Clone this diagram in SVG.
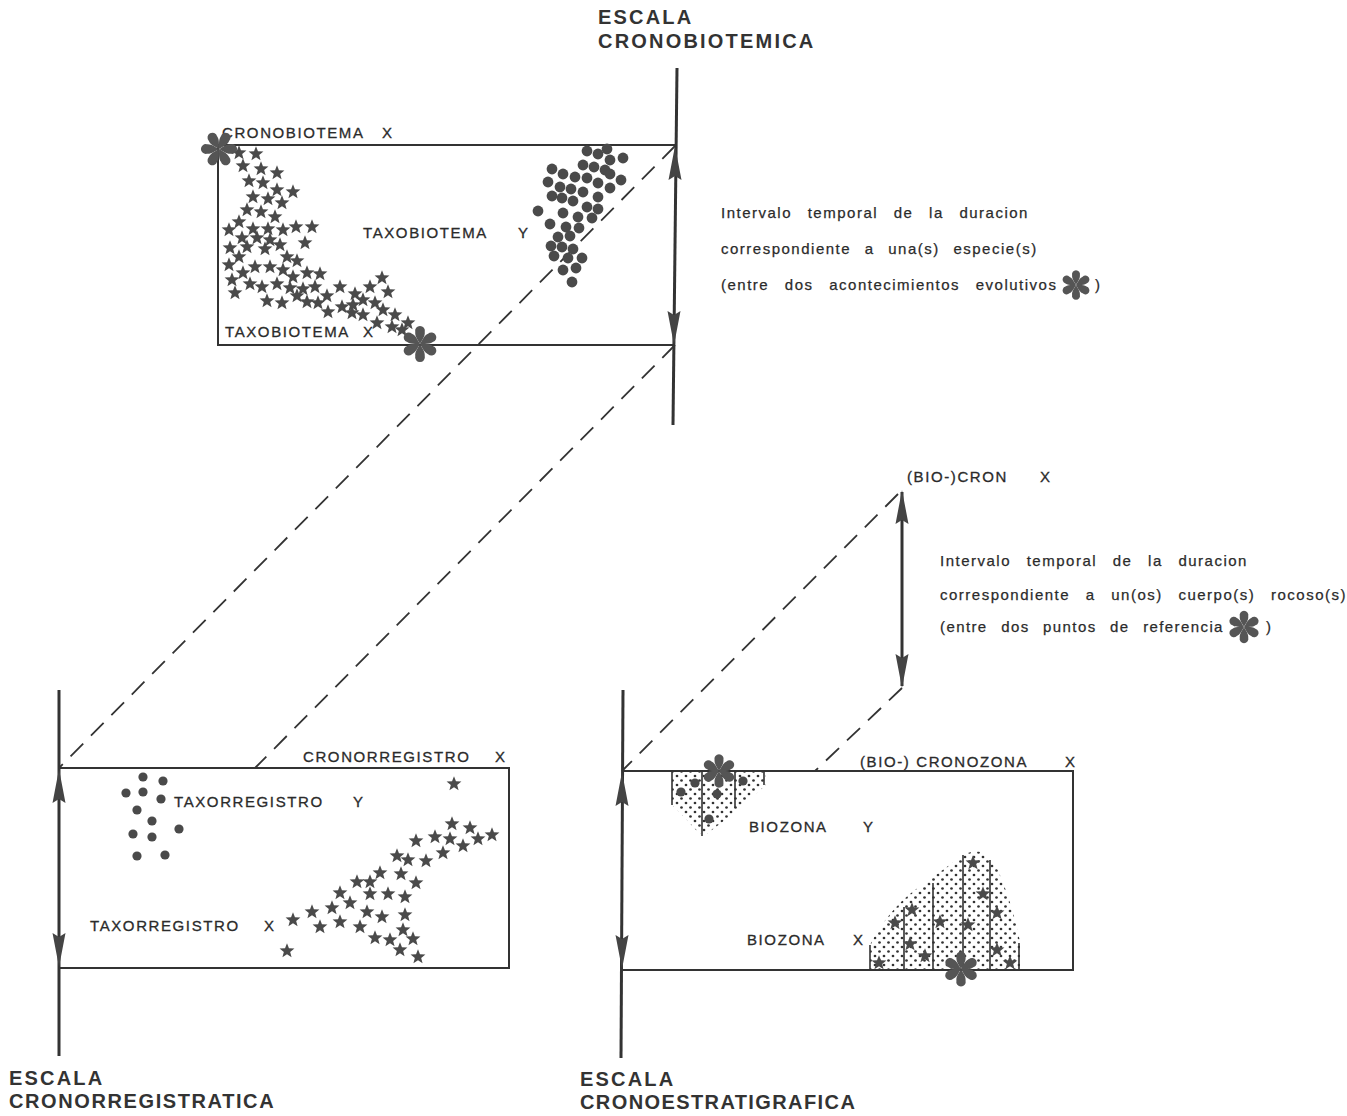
<svg xmlns="http://www.w3.org/2000/svg" xmlns:xlink="http://www.w3.org/1999/xlink" width="1347" height="1116" viewBox="0 0 1347 1116">
<style>
.bg{fill:#ffffff}
.box{fill:none;stroke:#333;stroke-width:2}
.axis{fill:none;stroke:#333;stroke-width:3}
.dash{fill:none;stroke:#333;stroke-width:1.8;stroke-dasharray:18 11}
.vl{stroke:#333;stroke-width:1.6}
.title{font-family:"Liberation Sans",Arial,sans-serif;font-weight:bold;font-size:20px;fill:#333}
.lab{font-family:"Liberation Sans",Arial,sans-serif;font-size:15px;letter-spacing:1.6px;fill:#2b2b2b;stroke:#2b2b2b;stroke-width:0.3}
.txt{font-family:"Liberation Sans",Arial,sans-serif;font-size:15px;letter-spacing:1.5px;word-spacing:10px;fill:#2b2b2b;stroke:#2b2b2b;stroke-width:0.25}
</style>
<defs>
<path id="star" d="M0,-7.8 L1.96,-2.7 7.42,-2.41 3.17,1.03 4.58,6.31 0,3.33 -4.58,6.31 -3.17,1.03 -7.42,-2.41 -1.96,-2.7 Z" fill="#4a4a4a"/>
<path id="petal" d="M0,0 C-1.2,-2.5 -3.8,-5.5 -3.4,-8.6 A3.5,3.5 0 1 1 3.4,-8.6 C3.8,-5.5 1.2,-2.5 0,0Z"/>
<g id="ast" fill="#555">
<use href="#petal"/>
<use href="#petal" transform="rotate(60)"/>
<use href="#petal" transform="rotate(120)"/>
<use href="#petal" transform="rotate(180)"/>
<use href="#petal" transform="rotate(240)"/>
<use href="#petal" transform="rotate(300)"/>
</g>
<polygon id="ahUp" points="0,0 6.5,34 0,30 -6.5,34" fill="#444"/>
<polygon id="ahDn" points="0,0 6.5,-34 0,-30 -6.5,-34" fill="#444"/>
<circle id="dot" r="5.4" fill="#4a4a4a"/>
<circle id="dotS" r="4.6" fill="#4a4a4a"/>
<pattern id="stip" width="9" height="9" patternUnits="userSpaceOnUse">
<circle cx="2" cy="2" r="1.35" fill="#333"/>
<circle cx="6.5" cy="6.5" r="1.35" fill="#333"/>
</pattern>
</defs>
<rect class="bg" x="0" y="0" width="1347" height="1116"/>

<!-- titles -->
<g id="title-cronobiotemica">
<text class="title" x="598" y="24" letter-spacing="2.2">ESCALA</text>
<text class="title" x="598" y="48" letter-spacing="2.2">CRONOBIOTEMICA</text>
</g>
<g id="title-cronorregistratica">
<text class="title" x="9" y="1085" letter-spacing="2.2">ESCALA</text>
<text class="title" x="9" y="1108" letter-spacing="1.6">CRONORREGISTRATICA</text>
</g>
<g id="title-cronoestratigrafica">
<text class="title" x="580" y="1086" letter-spacing="2.2">ESCALA</text>
<text class="title" x="580" y="1109" letter-spacing="1.4">CRONOESTRATIGRAFICA</text>
</g>

<!-- connectors (dashed projection lines) -->
<g id="connectors">
<line class="dash" x1="675" y1="146" x2="59" y2="768"/>
<line class="dash" x1="675" y1="345" x2="255" y2="768"/>
<line class="dash" x1="898" y1="494" x2="622" y2="771"/>
<line class="dash" x1="902" y1="688" x2="815" y2="771"/>
</g>

<!-- axes -->
<g id="axis-cronobiotemica">
<line class="axis" x1="677" y1="68" x2="673" y2="425"/>
<use href="#ahUp" x="675" y="146"/>
<use href="#ahDn" x="674" y="345"/>
</g>
<g id="axis-biocron">
<line class="axis" x1="902" y1="492" x2="902" y2="686"/>
<use href="#ahUp" x="902" y="490"/>
<use href="#ahDn" x="902" y="688"/>
</g>
<g id="axis-cronorregistratica">
<line class="axis" x1="59" y1="690" x2="59" y2="1056"/>
<use href="#ahUp" x="59" y="769"/>
<use href="#ahDn" x="59" y="967"/>
</g>
<g id="axis-cronoestratigrafica">
<line class="axis" x1="623" y1="690" x2="621" y2="1058"/>
<use href="#ahUp" x="622" y="772"/>
<use href="#ahDn" x="622" y="969"/>
</g>

<!-- top panel: cronobiotema -->
<g id="cronobiotema">
<polyline class="box" points="675,145 218,145 218,345 675,345"/>
<text class="lab" x="222" y="138">CRONOBIOTEMA</text>
<text class="lab" x="382" y="138">X</text>
<text class="lab" x="363" y="238">TAXOBIOTEMA</text>
<text class="lab" x="518" y="238">Y</text>
<text class="lab" x="225" y="337">TAXOBIOTEMA</text>
<text class="lab" x="363" y="337">X</text>
<g id="taxobiotema-x-stars">
<use href="#star" x="239" y="153"/><use href="#star" x="256" y="154"/><use href="#star" x="243" y="166"/><use href="#star" x="261" y="169"/><use href="#star" x="277" y="173"/>
<use href="#star" x="249" y="181"/><use href="#star" x="263" y="183"/><use href="#star" x="277" y="190"/><use href="#star" x="293" y="192"/><use href="#star" x="253" y="197"/>
<use href="#star" x="268" y="199"/><use href="#star" x="282" y="203"/><use href="#star" x="247" y="210"/><use href="#star" x="261" y="212"/><use href="#star" x="275" y="217"/>
<use href="#star" x="239" y="222"/><use href="#star" x="296" y="227"/><use href="#star" x="312" y="227"/><use href="#star" x="253" y="229"/><use href="#star" x="268" y="229"/>
<use href="#star" x="283" y="230"/><use href="#star" x="229" y="230"/><use href="#star" x="305" y="243"/><use href="#star" x="242" y="238"/><use href="#star" x="257" y="238"/>
<use href="#star" x="270" y="240"/><use href="#star" x="230" y="248"/><use href="#star" x="247" y="247"/><use href="#star" x="265" y="249"/><use href="#star" x="280" y="245"/>
<use href="#star" x="287" y="257"/><use href="#star" x="239" y="257"/><use href="#star" x="297" y="261"/><use href="#star" x="229" y="265"/><use href="#star" x="255" y="267"/>
<use href="#star" x="270" y="267"/><use href="#star" x="283" y="270"/><use href="#star" x="243" y="273"/><use href="#star" x="307" y="273"/><use href="#star" x="320" y="274"/>
<use href="#star" x="232" y="280"/><use href="#star" x="250" y="284"/><use href="#star" x="262" y="287"/><use href="#star" x="277" y="284"/><use href="#star" x="293" y="277"/>
<use href="#star" x="290" y="288"/><use href="#star" x="303" y="289"/><use href="#star" x="235" y="293"/><use href="#star" x="315" y="287"/><use href="#star" x="267" y="301"/>
<use href="#star" x="282" y="303"/><use href="#star" x="297" y="296"/><use href="#star" x="307" y="302"/><use href="#star" x="327" y="296"/><use href="#star" x="340" y="287"/>
<use href="#star" x="355" y="294"/><use href="#star" x="370" y="287"/><use href="#star" x="382" y="278"/><use href="#star" x="388" y="292"/><use href="#star" x="318" y="303"/>
<use href="#star" x="328" y="312"/><use href="#star" x="342" y="307"/><use href="#star" x="353" y="305"/><use href="#star" x="363" y="300"/><use href="#star" x="375" y="303"/>
<use href="#star" x="383" y="310"/><use href="#star" x="395" y="315"/><use href="#star" x="363" y="315"/><use href="#star" x="377" y="323"/><use href="#star" x="392" y="327"/>
<use href="#star" x="408" y="323"/><use href="#star" x="402" y="330"/><use href="#star" x="352" y="313"/>
</g>
<g id="taxobiotema-y-dots">
<use href="#dot" x="587" y="151"/><use href="#dot" x="598" y="154"/><use href="#dot" x="607" y="149"/><use href="#dot" x="610" y="160"/><use href="#dot" x="623" y="158"/>
<use href="#dot" x="583" y="165"/><use href="#dot" x="594" y="167"/><use href="#dot" x="605" y="170"/><use href="#dot" x="552" y="169"/><use href="#dot" x="563" y="174"/>
<use href="#dot" x="575" y="177"/><use href="#dot" x="587" y="178"/><use href="#dot" x="598" y="183"/><use href="#dot" x="610" y="174"/><use href="#dot" x="621" y="180"/>
<use href="#dot" x="548" y="182"/><use href="#dot" x="560" y="187"/><use href="#dot" x="571" y="189"/><use href="#dot" x="583" y="192"/><use href="#dot" x="598" y="197"/>
<use href="#dot" x="610" y="188"/><use href="#dot" x="552" y="196"/><use href="#dot" x="562" y="198"/><use href="#dot" x="573" y="201"/><use href="#dot" x="587" y="207"/>
<use href="#dot" x="598" y="209"/><use href="#dot" x="538" y="211"/><use href="#dot" x="563" y="213"/><use href="#dot" x="578" y="217"/><use href="#dot" x="592" y="218"/>
<use href="#dot" x="550" y="224"/><use href="#dot" x="566" y="227"/><use href="#dot" x="579" y="228"/><use href="#dot" x="558" y="237"/><use href="#dot" x="570" y="236"/>
<use href="#dot" x="551" y="246"/><use href="#dot" x="562" y="247"/><use href="#dot" x="573" y="249"/><use href="#dot" x="554" y="256"/><use href="#dot" x="568" y="258"/>
<use href="#dot" x="582" y="258"/><use href="#dot" x="563" y="270"/><use href="#dot" x="576" y="268"/><use href="#dot" x="572" y="282"/>
</g>
<use href="#ast" transform="translate(219,149) rotate(90) scale(1.4)"/>
<use href="#ast" transform="translate(420,344) scale(1.4)"/>
</g>

<!-- top note -->
<g id="note-cronobiotema">
<text class="txt" x="721" y="218">Intervalo temporal de la duracion</text>
<text class="txt" x="721" y="254" style="word-spacing:8px">correspondiente a una(s) especie(s)</text>
<text class="txt" x="721" y="290">(entre dos acontecimientos evolutivos</text>
<use href="#ast" transform="translate(1076,285) scale(1.15)"/>
<text class="txt" x="1095" y="290">)</text>
</g>

<!-- biocron note -->
<g id="note-biocron">
<text class="lab" x="907" y="482">(BIO-)CRON</text>
<text class="lab" x="1040" y="482">X</text>
<text class="txt" x="940" y="566">Intervalo temporal de la duracion</text>
<text class="txt" x="940" y="600">correspondiente a un(os) cuerpo(s) rocoso(s)</text>
<text class="txt" x="940" y="632" style="word-spacing:8px;letter-spacing:1.4px">(entre dos puntos de referencia</text>
<use href="#ast" transform="translate(1244,627) scale(1.25)"/>
<text class="txt" x="1266" y="632">)</text>
</g>

<!-- bottom-left panel: cronorregistro -->
<g id="cronorregistro">
<polyline class="box" points="59,768 509,768 509,968 59,968"/>
<text class="lab" x="303" y="762">CRONORREGISTRO</text>
<text class="lab" x="495" y="762">X</text>
<text class="lab" x="174" y="807">TAXORREGISTRO</text>
<text class="lab" x="353" y="807">Y</text>
<text class="lab" x="90" y="931">TAXORREGISTRO</text>
<text class="lab" x="264" y="931">X</text>
<g id="taxorregistro-y-dots">
<use href="#dotS" x="143" y="777"/><use href="#dotS" x="163" y="781"/><use href="#dotS" x="126" y="793"/><use href="#dotS" x="143" y="792"/><use href="#dotS" x="161" y="799"/>
<use href="#dotS" x="137" y="810"/><use href="#dotS" x="152" y="821"/><use href="#dotS" x="179" y="829"/><use href="#dotS" x="133" y="834"/><use href="#dotS" x="152" y="837"/>
<use href="#dotS" x="137" y="856"/><use href="#dotS" x="165" y="855"/>
</g>
<g id="taxorregistro-x-stars">
<use href="#star" x="454" y="784"/><use href="#star" x="452" y="824"/><use href="#star" x="470" y="828"/><use href="#star" x="492" y="835"/><use href="#star" x="478" y="839"/>
<use href="#star" x="463" y="846"/><use href="#star" x="450" y="839"/><use href="#star" x="435" y="837"/><use href="#star" x="416" y="841"/><use href="#star" x="443" y="853"/>
<use href="#star" x="426" y="861"/><use href="#star" x="408" y="860"/><use href="#star" x="397" y="856"/><use href="#star" x="380" y="873"/><use href="#star" x="401" y="874"/>
<use href="#star" x="416" y="883"/><use href="#star" x="370" y="882"/><use href="#star" x="357" y="882"/><use href="#star" x="340" y="893"/><use href="#star" x="350" y="903"/>
<use href="#star" x="370" y="894"/><use href="#star" x="388" y="894"/><use href="#star" x="405" y="897"/><use href="#star" x="332" y="908"/><use href="#star" x="367" y="912"/>
<use href="#star" x="382" y="917"/><use href="#star" x="405" y="915"/><use href="#star" x="312" y="912"/><use href="#star" x="320" y="927"/><use href="#star" x="340" y="922"/>
<use href="#star" x="360" y="927"/><use href="#star" x="403" y="930"/><use href="#star" x="375" y="938"/><use href="#star" x="390" y="940"/><use href="#star" x="413" y="939"/>
<use href="#star" x="400" y="950"/><use href="#star" x="418" y="957"/><use href="#star" x="293" y="920"/><use href="#star" x="287" y="951"/>
</g>
</g>

<!-- bottom-right panel: cronozona -->
<g id="cronozona">
<polyline class="box" points="622,771 1073,771 1073,970 622,970"/>
<text class="lab" x="860" y="767">(BIO-) CRONOZONA</text>
<text class="lab" x="1065" y="767">X</text>
<text class="lab" x="749" y="832">BIOZONA</text>
<text class="lab" x="863" y="832">Y</text>
<text class="lab" x="747" y="945">BIOZONA</text>
<text class="lab" x="853" y="945">X</text>
<g id="biozona-y">
<polygon points="672,772 766,772 766,785 745,803 725,820 704,836 696,830 685,818 672,805" fill="url(#stip)"/>
<line class="vl" x1="672" y1="772" x2="672" y2="805"/>
<line class="vl" x1="702" y1="772" x2="702" y2="836"/>
<line class="vl" x1="735" y1="772" x2="735" y2="808"/>
<line class="vl" x1="764" y1="772" x2="764" y2="785"/>
<use href="#dotS" x="681" y="792"/><use href="#dotS" x="695" y="783"/><use href="#dotS" x="717" y="794"/><use href="#dotS" x="743" y="781"/><use href="#dotS" x="709" y="819"/>
<use href="#ast" transform="translate(719,771) scale(1.3)"/>
</g>
<g id="biozona-x">
<path d="M870,970 L870,945 C880,925 895,905 915,890 C935,876 952,862 968,853 C982,848 990,856 996,866 C1005,885 1015,915 1020,942 L1020,970 Z" fill="url(#stip)"/>
<line class="vl" x1="870" y1="945" x2="870" y2="970"/>
<line class="vl" x1="904" y1="907" x2="904" y2="970"/>
<line class="vl" x1="933" y1="883" x2="933" y2="970"/>
<line class="vl" x1="963" y1="855" x2="963" y2="970"/>
<line class="vl" x1="990" y1="860" x2="990" y2="970"/>
<line class="vl" x1="1019" y1="943" x2="1019" y2="970"/>
<use href="#star" x="973" y="863"/><use href="#star" x="983" y="894"/><use href="#star" x="997" y="913"/><use href="#star" x="940" y="922"/><use href="#star" x="968" y="925"/>
<use href="#star" x="912" y="910"/><use href="#star" x="895" y="923"/><use href="#star" x="910" y="944"/><use href="#star" x="925" y="956"/><use href="#star" x="997" y="950"/>
<use href="#star" x="1010" y="963"/><use href="#star" x="879" y="963"/>
<use href="#ast" transform="translate(961,969) scale(1.35)"/>
</g>
</g>
</svg>
